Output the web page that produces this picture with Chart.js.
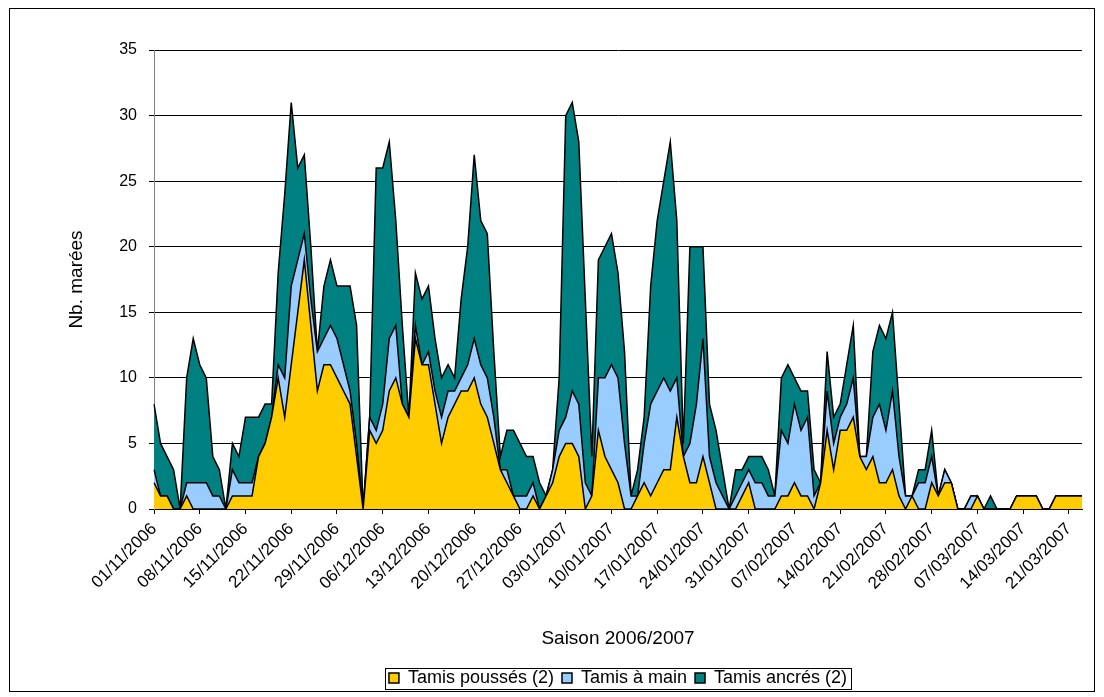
<!DOCTYPE html>
<html><head><meta charset="utf-8">
<script src="https://cdn.jsdelivr.net/npm/chart.js@4.4.0/dist/chart.umd.min.js"></script>
<style>html,body{margin:0;padding:0;background:#fff;} #wrap{position:relative;width:1104px;height:697px;} canvas{display:block;}</style>
</head><body><div id="wrap"><canvas id="c" width="1104" height="697"></canvas></div>
<script>
// ---- data (one value per day from 01/11/2006 to 23/03/2007) ----
const tickLabels = ['01/11/2006','08/11/2006','15/11/2006','22/11/2006','29/11/2006','06/12/2006','13/12/2006','20/12/2006','27/12/2006','03/01/2007','10/01/2007','17/01/2007','24/01/2007','31/01/2007','07/02/2007','14/02/2007','21/02/2007','28/02/2007','07/03/2007','14/03/2007','21/03/2007'];
const tamisPousses = [2,1,1,0,0,1,0,0,0,0,0,0,1,1,1,1,4,5,7,10,7,11,15,19,14,9,11,11,10,9,8,4,0,6,5,6,9,10,8,7,13,11,11,8,5,7,8,9,9,10,8,7,5,3,2,1,0,0,1,0,1,2,4,5,5,4,0,1,6,4,3,2,0,0,1,2,1,2,3,3,7,4,2,2,4,2,0,0,0,0,1,2,0,0,0,0,1,1,2,1,1,0,2,6,3,6,6,7,4,3,4,2,2,3,1,0,1,0,0,2,1,2,2,0,0,0,1,0,0,0,0,0,1,1,1,1,0,0,1,1,1,1,1];
const tamisMain = [1,0,0,0,0,1,2,2,2,1,1,0,2,1,1,1,0,0,0,1,3,6,4,2,2,3,2,3,3,2,1,1,0,1,1,2,4,4,0,0,1,0,1,1,2,2,1,1,2,3,3,3,2,0,1,0,1,1,1,0,0,1,2,2,4,4,2,0,4,6,8,8,5,1,0,3,7,7,7,6,3,0,3,6,9,2,2,1,0,1,1,1,2,2,1,1,5,4,6,5,6,1,0,3,2,1,2,3,0,1,3,6,4,6,3,1,0,2,2,2,0,1,0,0,0,1,0,0,0,0,0,0,0,0,0,0,0,0,0,0,0,0,0];
const tamisAncres = [5,4,3,3,0,8,11,9,8,3,2,0,2,2,5,5,3,3,1,7,14,14,7,6,4,0,4,5,4,6,8,9,0,0,20,18,15,8,6,0,4,5,5,4,3,2,1,6,9,14,11,11,5,1,3,5,4,3,2,2,0,0,4,23,22,20,14,3,9,10,10,8,7,0,2,2,9,13,15,19,12,1,15,12,7,4,4,2,0,2,1,1,2,2,2,0,4,6,2,3,2,2,0,3,2,1,3,4,0,0,5,6,7,6,4,0,0,1,1,2,0,0,0,0,0,0,0,0,1,0,0,0,0,0,0,0,0,0,0,0,0,0,0];
const yTicks = [0,5,10,15,20,25,30,35];

// daily categories
const categories = [];
for (let i = 0; i < tamisPousses.length; i++) {
  const d = new Date(Date.UTC(2006, 10, 1 + i));
  const dd = String(d.getUTCDate()).padStart(2,'0');
  const mm = String(d.getUTCMonth()+1).padStart(2,'0');
  categories.push(dd + '/' + mm + '/' + d.getUTCFullYear());
}
const isTick = i => tickLabels.includes(categories[i]);

const FONT = "'Liberation Sans', Arial, sans-serif";

const framePlugin = {
  id: 'frame',
  afterLayout(chart) {
    const lg = chart.legend, ca = chart.chartArea;
    if (!lg) return;
    const shift = (ca.left + ca.right) / 2 - (lg.left + lg.right) / 2;
    lg.left += shift; lg.right += shift;
  },
  afterDraw(chart) {
    const ctx = chart.ctx;
    ctx.save();
    ctx.strokeStyle = '#000';
    ctx.lineWidth = 1;
    ctx.strokeRect(9.5, 8.5, 1085, 683);
    const hb = chart.legend && chart.legend.legendHitBoxes;
    if (hb && hb.length) {
      let l = Infinity, r = -Infinity, t = Infinity, b = -Infinity;
      hb.forEach(h => { l = Math.min(l, h.left); r = Math.max(r, h.left + h.width); t = Math.min(t, h.top); b = Math.max(b, h.top + h.height); });
      ctx.strokeRect(Math.round(l - 4) + 0.5, Math.round(t - 1) + 0.5, Math.round(r - l + 8), Math.round(b - t + 3));
    }
    ctx.restore();
  }
};

new Chart(document.getElementById('c'), {
  type: 'line',
  data: {
    labels: categories,
    datasets: [
      { label: 'Tamis poussés (2)', data: tamisPousses, backgroundColor: '#FFCC00', borderColor: '#000', borderWidth: 1.5, fill: 'origin', pointRadius: 0, tension: 0 },
      { label: 'Tamis à main', data: tamisMain, backgroundColor: '#99CCFF', borderColor: '#000', borderWidth: 1.5, fill: '-1', pointRadius: 0, tension: 0 },
      { label: 'Tamis ancrés (2)', data: tamisAncres, backgroundColor: '#008080', borderColor: '#000', borderWidth: 1.5, fill: '-1', pointRadius: 0, tension: 0 }
    ]
  },
  options: {
    responsive: false,
    animation: false,
    events: [],
    layout: { padding: { left: 0, right: 22, top: 50, bottom: 0 } },
    plugins: {
      tooltip: { enabled: false },
      legend: {
        position: 'bottom',
        labels: { font: { family: FONT, size: 18 }, color: '#000', boxWidth: 10, boxHeight: 10, padding: 8 }
      }
    },
    scales: {
      x: {
        stacked: true,
        offset: false,
        afterFit(s) { s.height = 152; },
        grid: { drawOnChartArea: false, drawTicks: true, tickLength: 5,
                color: c => isTick(c.index) ? '#000' : 'rgba(0,0,0,0)' },
        border: { display: true, color: '#000', width: 1 },
        ticks: { autoSkip: false, maxRotation: 45, minRotation: 45, padding: 5, color: '#000',
                 font: { family: FONT, size: 17 },
                 callback: (v, i) => isTick(i) ? categories[i] : '' },
        title: { display: true, text: 'Saison 2006/2007', color: '#000', font: { family: FONT, size: 19 }, padding: { top: 0, bottom: 11 } }
      },
      y: {
        stacked: true,
        min: 0, max: 35,
        afterFit(s) { s.width = 154; },
        afterBuildTicks(s) { s.ticks = yTicks.map(v => ({ value: v })); },
        grid: { color: '#000', lineWidth: 1, drawTicks: true, tickLength: 5 },
        border: { display: true, color: '#808080', width: 1 },
        ticks: { padding: 12, color: '#000', font: { family: FONT, size: 16 } },
        title: { display: true, text: 'Nb. marées', color: '#000', font: { family: FONT, size: 19 }, padding: { top: 65, bottom: 0 } }
      }
    }
  },
  plugins: [framePlugin]
});
</script></body></html>
